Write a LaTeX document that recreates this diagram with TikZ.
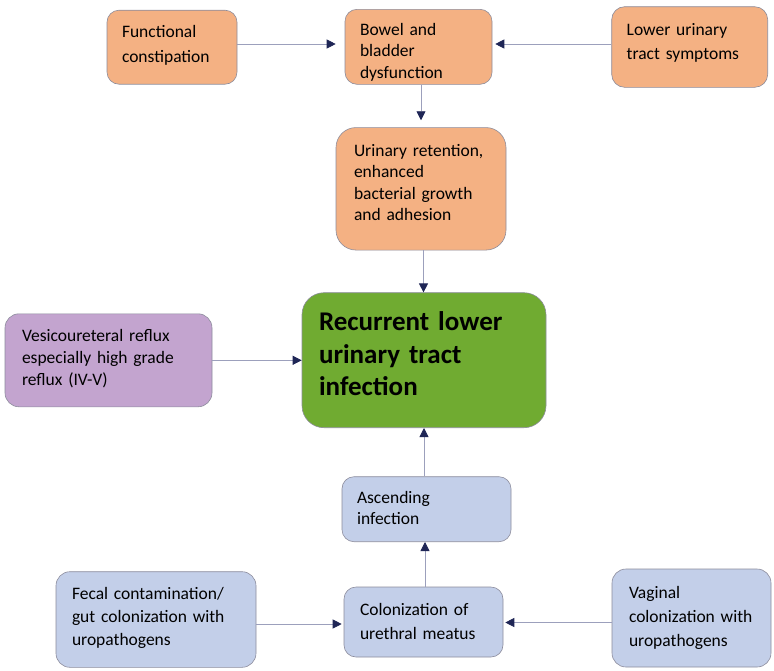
\documentclass[tikz,border=0pt]{standalone}
\usepackage{fontspec}
\setmainfont{Carlito}
\usetikzlibrary{arrows.meta,calc}
\definecolor{orangefill}{HTML}{F4B183}
\definecolor{greenfill}{HTML}{70AB31}
\definecolor{purplefill}{HTML}{C3A4CF}
\definecolor{bluefill}{HTML}{C3CFE9}
\definecolor{boxedge}{HTML}{8C8C9C}
\definecolor{navytip}{HTML}{1F2656}
\definecolor{linkline}{HTML}{9CA0BC}
% box={width}{height}{corner radius}{line skip}{2 x first-baseline offset}
\tikzset{
  box/.style n args={5}{draw=boxedge, line width=0.6pt, rounded corners=#3pt,
    minimum width=#1pt, minimum height=#2pt, inner ysep=0pt, align=left,
    font=\fontsize{17.5}{#4}\selectfont, text height=0pt, text depth=#5pt,
    anchor=center},
  orangebox/.style={fill=orangefill},
  bluebox/.style={fill=bluefill},
  link/.style={draw=linkline, line width=0.8pt,
    -{Triangle[length=9pt,width=9pt,color=navytip]}},
}
\begin{document}
\begin{tikzpicture}[x=1pt,y=-1pt]
\useasboundingbox (0,0) rectangle (774,670);
% top row
\node[box={130}{74}{12}{25}{19}, orangebox, inner xsep=15pt, text width=100pt] (fc) at (172,47.2)
  {Functional\\constipation};
\node[box={147}{75}{12}{21.5}{23.6}, orangebox, inner xsep=15pt, text width=117pt] (bbd) at (418.5,46.8)
  {Bowel and\\bladder\\dysfunction};
\node[box={156}{80.6}{13}{24.3}{24}, orangebox, inner xsep=15pt, text width=126pt] (luts) at (689.7,47)
  {Lower urinary\\tract symptoms};
\node[box={170}{122.5}{20}{21.2}{64.2}, orangebox, inner xsep=18pt, text width=134pt] (ur) at (421,188.8)
  {Urinary retention,\\enhanced\\bacterial growth\\and adhesion};
% middle
\node[box={244}{135}{22}{32.5}{59}, fill=greenfill, inner xsep=17pt, text width=210pt,
  font=\fontsize{27}{32.5}\selectfont\bfseries] (rec) at (424,360.2)
  {Recurrent lower\\urinary tract\\infection};
\node[box={207}{93}{14}{21.7}{37.2}, fill=purplefill, inner xsep=17pt, text width=173pt] (vur) at (108.5,360.3)
  {Vesicoureteral reflux\\especially high grade\\reflux (IV-V)};
% bottom
\node[box={169}{65}{12}{20.7}{11.8}, bluebox, inner xsep=15pt, text width=139pt] (asc) at (426.5,509.2)
  {Ascending\\infection};
\node[box={159}{70}{12}{24}{14}, bluebox, inner xsep=16pt, text width=127pt] (col) at (423.5,622)
  {Colonization of\\urethral meatus};
\node[box={200}{95.6}{14}{23.3}{40.4}, bluebox, inner xsep=16pt, text width=168pt] (fec) at (156,619.5)
  {Fecal contamination/\\gut colonization with\\uropathogens};
\node[box={159}{98}{14}{24.3}{39.4}, bluebox, inner xsep=17pt, text width=125pt] (vag) at (691.5,618)
  {Vaginal\\colonization with\\uropathogens};
% connectors
\draw[link, shorten >=9pt] (fc.east |- 0,44) -- (bbd.west |- 0,44);
\draw[link, shorten >=3pt] (luts.west |- 0,44) -- (bbd.east |- 0,44);
\draw[link, shorten >=7pt] (bbd.south -| 421,0) -- (ur.north -| 421,0);
\draw[link] (ur.south -| 423.5,0) -- (rec.north -| 423.5,0);
\draw[link] (vur.east) -- (rec.west |- vur.east);
\draw[link] (asc.north -| 424,0) -- (rec.south -| 424,0);
\draw[link] (col.north -| 425,0) -- (asc.south -| 425,0);
\draw[link, shorten >=2pt] (fec.east |- 0,624) -- (col.west |- 0,624);
\draw[link, shorten >=2pt] (vag.west |- 0,622.5) -- (col.east |- 0,622.5);
\end{tikzpicture}
\end{document}
